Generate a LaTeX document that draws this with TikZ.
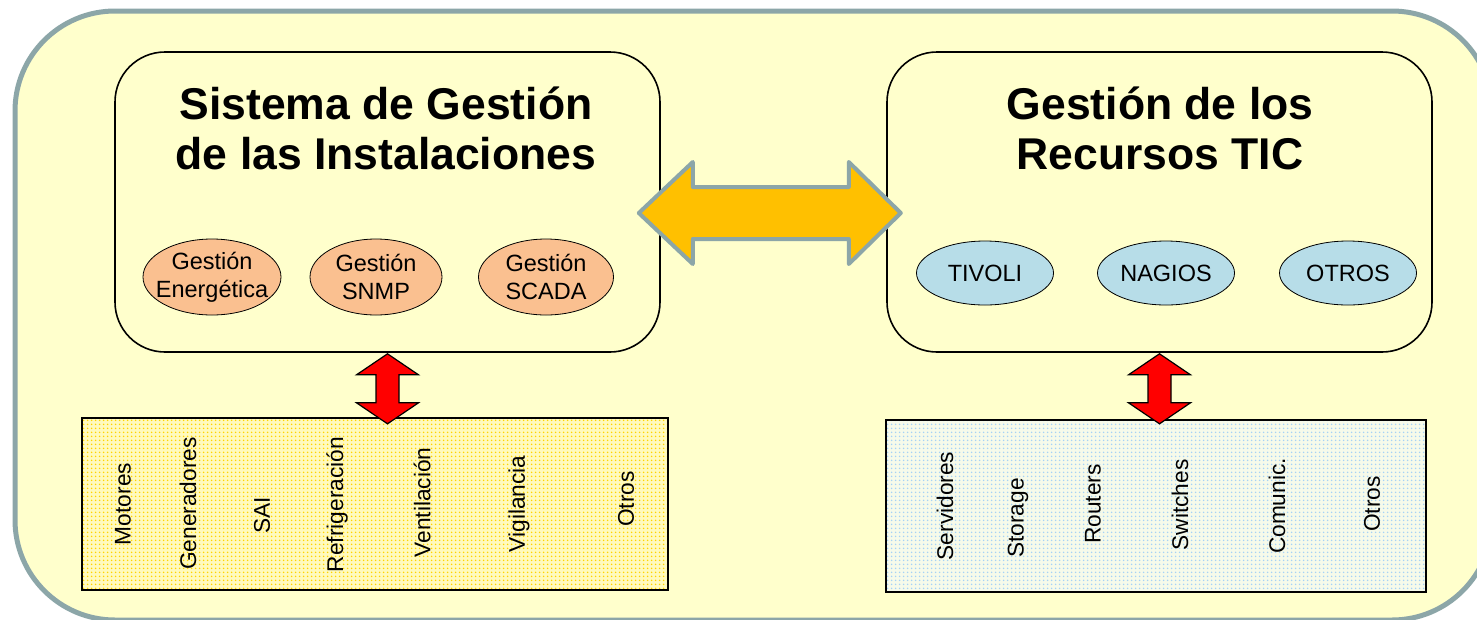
\documentclass[tikz,border=0pt]{standalone}
\usepackage{fontspec}
\setmainfont{Liberation Sans}
\usetikzlibrary{
  calc,
  patterns.meta,
  shapes.geometric,
}
\definecolor{paneyellow}{HTML}{FFFFCC}
\definecolor{paneborder}{HTML}{8CA6A8}
\definecolor{gestorange}{HTML}{FAC090}
\definecolor{ticblue}{HTML}{B7DDE8}
\definecolor{linkorange}{HTML}{FFC000}
\definecolor{dotyellow}{HTML}{FFD400}
\definecolor{instfill}{HTML}{FFFABE}
\definecolor{dotblue}{HTML}{A6D2F6}
\definecolor{hwfill}{HTML}{F6FAEA}
\tikzset{
  panel/.style={draw, line width=1.6pt, rounded corners=50pt, inner sep=0pt,
    minimum width=545pt, minimum height=300pt},
  paneltitle/.style={font=\fontsize{44.5}{50}\selectfont\bfseries, align=center},
  elltext/.style={align=center, inner sep=0pt, font=\fontsize{23.5}{28}\selectfont},
  gestion/.style={ellipse, draw, line width=0.8pt, fill=gestorange,
    minimum width=138pt, minimum height=76pt, inner sep=0pt},
  recurso/.style={ellipse, draw, line width=0.8pt, fill=ticblue,
    minimum width=137pt, minimum height=64pt, inner sep=0pt},
  equipos/.style={draw, line width=1.6pt, inner sep=0pt, minimum height=172pt},
  equipo/.style={rotate=90, inner sep=0pt, font=\fontsize{22.7}{26}\selectfont},
  redlink/.style={draw=black, line width=1.2pt, fill=red, line join=miter},
  biglink/.style={draw=paneborder, line width=4pt, fill=linkorange, line join=round},
}

\begin{document}
\begin{tikzpicture}[x=1pt,y=-1pt]
  \useasboundingbox (0,0) rectangle (1477,619);
  \fill [white] (0,0) rectangle (1477,619);

  % fondo
  \draw [draw=paneborder, line width=5pt, fill=paneyellow, rounded corners=100pt]
        (15,11) rectangle (1492,620);

  \node [panel] (sgi) at (387.5,202) {};
  \node [panel] (tic) at (1159.5,202) {};

  \node [paneltitle] (sgititle) at (386,128) {Sistema de Gestión\\de las Instalaciones};
  \node [paneltitle] (tictitle) at (1160,128) {Gestión de los\\Recursos TIC};

  \node [gestion, label={[elltext]center:{Gestión\\Energética}}]
        (energia) at (212,277) {};
  \node [gestion, minimum width=132pt, label={[elltext]center:{Gestión\\SNMP}}]
        (snmp) at (376,277) {};
  \node [gestion, minimum width=135pt, label={[elltext]center:{Gestión\\SCADA}}]
        (scada) at (546,277) {};

  \node [recurso, label={[elltext]center:TIVOLI}] (tivoli) at (985,273) {};
  \node [recurso, label={[elltext]center:NAGIOS}] (nagios) at (1166,273) {};
  \node [recurso, label={[elltext]center:OTROS}] (otros) at (1348,273) {};

  % equipos
  \node [equipos, minimum width=586pt, preaction={fill=instfill},
         pattern={Dots[distance=4pt, radius=1pt]}, pattern color=dotyellow]
        (inst) at (375,504) {};
  \node [equipos, minimum width=540pt, preaction={fill=hwfill},
         pattern={Dots[distance=4pt, radius=1pt]}, pattern color=dotblue]
        (hw) at (1156,506) {};

  \node [equipo] (motores) at (123,504) {Motores};
  \node [equipo] (generadores) at (188,503.5) {Generadores};
  \node [equipo] (sai) at (262,515) {SAI};
  \node [equipo] (refrigeracion) at (337,504.5) {Refrigeración};
  \node [equipo] (ventilacion) at (422,502.5) {Ventilación};
  \node [equipo] (vigilancia) at (519,504) {Vigilancia};
  \node [equipo] (otrosinst) at (626,499) {Otros};

  \node [equipo] (servidores) at (945,506) {Servidores};
  \node [equipo] (storage) at (1018,518) {Storage};
  \node [equipo] (routers) at (1093,504) {Routers};
  \node [equipo] (switches) at (1180,505) {Switches};
  \node [equipo] (comunic) at (1277,506) {Comunic.};
  \node [equipo] (otroshw) at (1372,504) {Otros};

  % enlaces
  \coordinate (linkL) at ($(sgi.east)+(-22,11)$);
  \draw [biglink] (linkL) -- ++(54,-51) -- ++(0,25) -- ++(156,0) -- ++(0,-25)
        -- ++(52,51) -- ++(-52,51) -- ++(0,-25) -- ++(-156,0) -- ++(0,25) -- cycle;

  \draw [redlink] (sgi.south) ++(0,1) -- ++(31,21) -- ++(-19.5,0) -- ++(0,28)
        -- ++(19.5,0) -- ++(-31,21) -- ++(-31,-21) -- ++(19.5,0) -- ++(0,-28)
        -- ++(-19.5,0) -- cycle;
  \draw [redlink] (tic.south) ++(0,1) -- ++(31,21) -- ++(-19.5,0) -- ++(0,28)
        -- ++(19.5,0) -- ++(-31,21) -- ++(-31,-21) -- ++(19.5,0) -- ++(0,-28)
        -- ++(-19.5,0) -- cycle;
\end{tikzpicture}
\end{document}
